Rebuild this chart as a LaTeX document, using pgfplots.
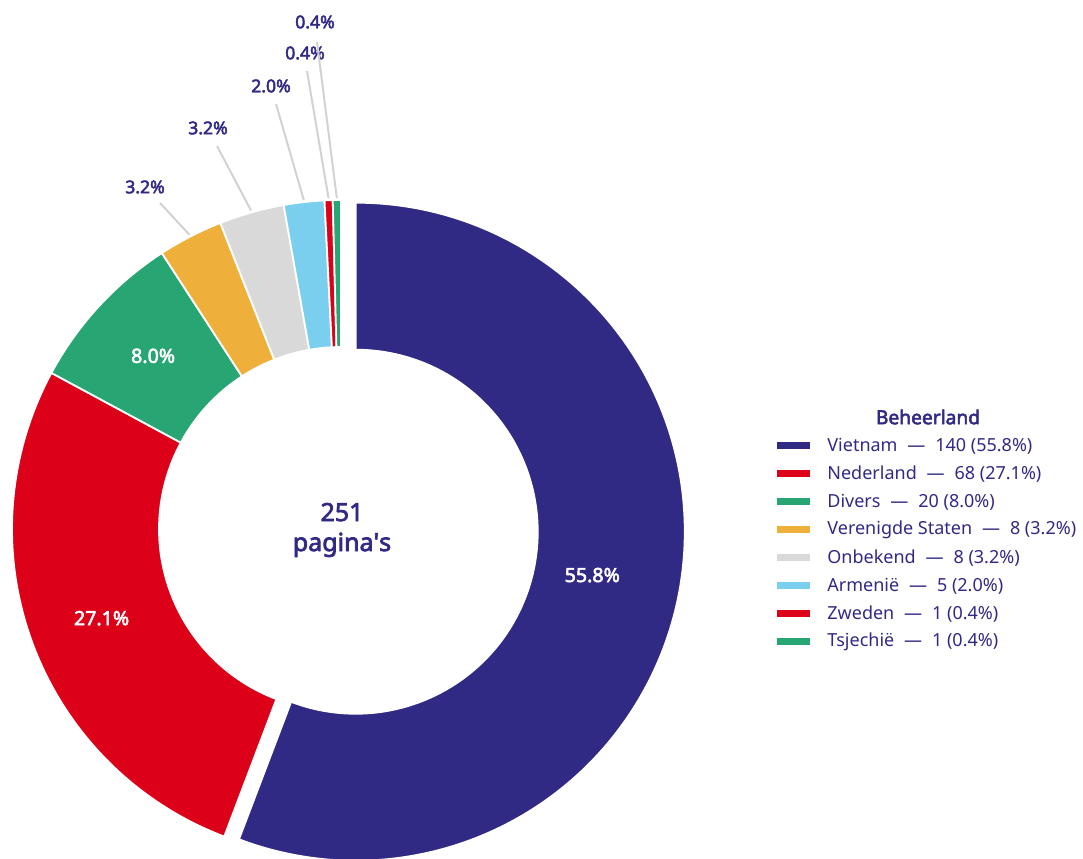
\documentclass[border=0pt]{standalone}
\usepackage{fontspec}
\setmainfont{Noto Sans}[AutoFakeBold=2.8]
\usepackage{pgfplots}
\usepackage{pgfplotstable}
\pgfplotsset{compat=1.18}

\definecolor{cVietnam}{HTML}{312A84}
\definecolor{cRood}{HTML}{DC0019}
\definecolor{cGroen}{HTML}{27A673}
\definecolor{cGeel}{HTML}{EEB03A}
\definecolor{cGrijs}{HTML}{D9D9D9}
\definecolor{cBlauw}{HTML}{7ACFEE}
\definecolor{cTekst}{HTML}{312A84}
\definecolor{cLijn}{HTML}{D2D2D2}

% aantal pagina's per beheerland; lx/ly = label, ex/ey = eind van de lijn (beeldpixels)
\pgfplotstableread[col sep=comma]{
naam,aantal,kleur,explode,lx,ly,ex,ey
Vietnam,140,cVietnam,15,0,0,0,0
Nederland,68,cRood,0,0,0,0,0
Divers,20,cGroen,0,0,0,0,0
Verenigde Staten,8,cGeel,0,145,187,160,203
Onbekend,8,cGrijs,0,208,128,217,146
Armenië,5,cBlauw,0,271,86,276,104
Zweden,1,cRood,0,305,53,307,71
Tsjechië,1,cGroen,0,315,22,317,42
}\slices

\newcommand\sv[2]{\csname s#1#2\endcsname}
\pgfkeys{/pgf/number format/assume math mode=true}

% totaal en hoeken vooraf uitrekenen
\pgfplotstablegetrowsof{\slices}
\pgfmathtruncatemacro\nrows{\pgfplotsretval-1}
\def\total{0}
\pgfplotsforeachungrouped \i in {0,...,\nrows}{%
  \pgfplotstablegetelem{\i}{aantal}\of\slices
  \pgfmathsetmacro\total{\total+\pgfplotsretval}}
\pgfmathtruncatemacro\totalint{\total}
\def\cum{0}
\pgfplotsforeachungrouped \i in {0,...,\nrows}{%
  \pgfplotstablegetelem{\i}{aantal}\of\slices \let\v\pgfplotsretval
  \pgfmathsetmacro\a{90-(\cum/\total)*360}
  \pgfmathsetmacro\cum{\cum+\v}
  \pgfmathsetmacro\b{90-(\cum/\total)*360}
  \pgfmathsetmacro\m{(\a+\b)/2}
  \pgfmathsetmacro\p{(\v/\total)*100}
  \expandafter\xdef\csname sA\i\endcsname{\a}
  \expandafter\xdef\csname sB\i\endcsname{\b}
  \expandafter\xdef\csname sM\i\endcsname{\m}
  \expandafter\xdef\csname sP\i\endcsname{\p}
  \expandafter\xdef\csname sV\i\endcsname{\v}
  \pgfplotstablegetelem{\i}{kleur}\of\slices
  \expandafter\xdef\csname sC\i\endcsname{\pgfplotsretval}
  \pgfplotstablegetelem{\i}{naam}\of\slices
  \expandafter\xdef\csname sN\i\endcsname{\pgfplotsretval}
  \pgfplotstablegetelem{\i}{explode}\of\slices
  \expandafter\xdef\csname sE\i\endcsname{\pgfplotsretval}
  \pgfplotstablegetelem{\i}{lx}\of\slices
  \expandafter\xdef\csname sLX\i\endcsname{\pgfplotsretval}
  \pgfplotstablegetelem{\i}{ly}\of\slices
  \pgfmathsetmacro\t{858-\pgfplotsretval}
  \expandafter\xdef\csname sLY\i\endcsname{\t}
  \pgfplotstablegetelem{\i}{ex}\of\slices
  \expandafter\xdef\csname sEX\i\endcsname{\pgfplotsretval}
  \pgfplotstablegetelem{\i}{ey}\of\slices
  \pgfmathsetmacro\t{858-\pgfplotsretval}
  \expandafter\xdef\csname sEY\i\endcsname{\t}
}

\def\Ro{164.5pt}
\def\Ri{91pt}
\def\Rm{127.75pt}

\begin{document}
\begin{tikzpicture}
  \begin{axis}[
    x=0.5pt, y=0.5pt,
    xmin=0, xmax=1083, ymin=0, ymax=858,
    enlargelimits=false, hide axis
  ]
    \addplot[draw=none, forget plot] coordinates {(0,0) (1083,858)};

    % ringsegmenten
    \pgfplotsinvokeforeach{0,...,7}{
      \fill[fill=\sv{C}{#1}, draw=white, line width=0.9pt,
            shift={(axis cs:341,329)}, shift={(\sv{M}{#1}:\sv{E}{#1}*0.5pt)}]
        (\sv{A}{#1}:\Ro) arc[start angle=\sv{A}{#1}, end angle=\sv{B}{#1}, radius=\Ro]
        -- (\sv{B}{#1}:\Ri) arc[start angle=\sv{B}{#1}, end angle=\sv{A}{#1}, radius=\Ri]
        -- cycle;
    }

    % labels in de ring
    \pgfplotsinvokeforeach{0,...,2}{
      \path (axis cs:341,329) ++(\sv{M}{#1}:\Rm)
        node[text=white, font=\bfseries\fontsize{9.8}{12}\selectfont]
        {\pgfmathprintnumber[fixed,fixed zerofill,precision=1]{\sv{P}{#1}}\%};
    }

    % labels buiten de ring
    \pgfplotsinvokeforeach{3,...,7}{
      \draw[cLijn, line width=1pt] (axis cs:341,329) ++(\sv{M}{#1}:165.5pt)
        -- (axis cs:\sv{EX}{#1},\sv{EY}{#1});
      \node[text=cTekst, font=\bfseries\fontsize{8.8}{11}\selectfont]
        at (axis cs:\sv{LX}{#1},\sv{LY}{#1})
        {\pgfmathprintnumber[fixed,fixed zerofill,precision=1]{\sv{P}{#1}}\%};
    }

    % midden
    \node[align=center, text=cTekst, font=\fontsize{12.5}{15}\selectfont]
      at (axis cs:342,328)
      {{\bfseries\fontsize{12.5}{15}\selectfont\totalint}\\
       {\bfseries\fontsize{12.5}{15}\selectfont pagina\textquotesingle s}};

    % legenda
    \node[text=cTekst, font=\bfseries\fontsize{9.6}{12}\selectfont]
      at (axis cs:928,441) {Beheerland};
    \pgfplotsinvokeforeach{0,...,7}{
      \fill[fill=\sv{C}{#1}] (axis cs:777,412) ++(0,{-14pt*#1}) ++(0,-1.75pt)
        rectangle ++(16.5pt,3.5pt);
      \path (axis cs:827,412) ++(0,{-14pt*#1})
        node[anchor=west, text=cTekst, inner xsep=0pt,
             font=\fontsize{9}{12}\selectfont]
        {\sv{N}{#1}\hspace{.55em}—\hspace{.55em}\sv{V}{#1}
         (\pgfmathprintnumber[fixed,fixed zerofill,precision=1]{\sv{P}{#1}}\%)};
    }
  \end{axis}
  \pgfresetboundingbox
  \path (current axis.south west) rectangle (current axis.north east);
\end{tikzpicture}
\end{document}
